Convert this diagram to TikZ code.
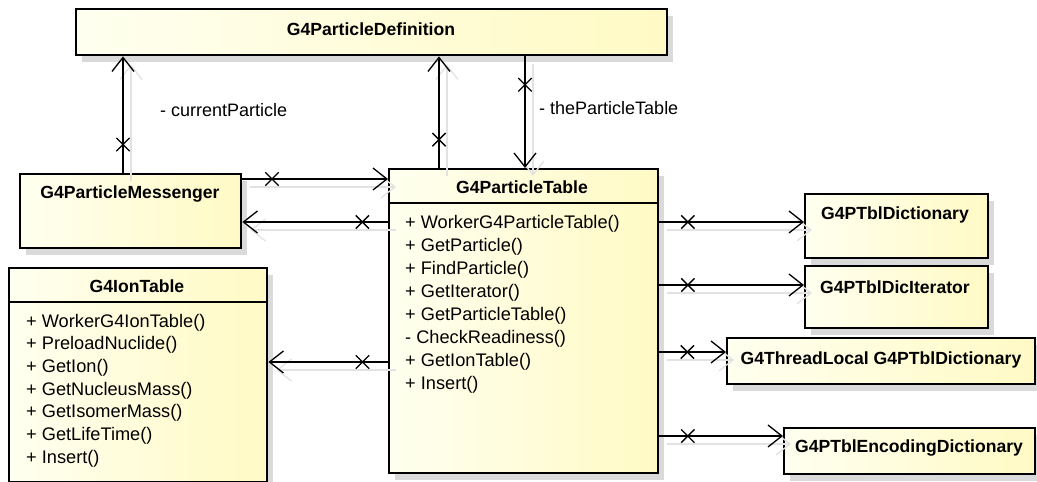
\documentclass[tikz,border=0pt]{standalone}
\usepackage{fontspec}
\setmainfont{Liberation Sans}
\usetikzlibrary{arrows.meta,shapes.misc,shadows,calc}

\definecolor{boxL}{RGB}{255,255,240}
\definecolor{boxR}{RGB}{255,250,196}
\definecolor{shadowc}{RGB}{218,218,218}
\definecolor{ghostc}{RGB}{226,226,226}

\tikzset{
  umlbox/.style={draw=black, line width=2.4pt, rectangle, inner sep=0pt, anchor=north west,
    left color=boxL, right color=boxR,
    drop shadow={shadow xshift=6pt, shadow yshift=-7pt, fill=shadowc, opacity=1}},
  ctitle/.style={font=\bfseries\fontsize{17.6}{20}\selectfont, anchor=base, inner sep=0pt},
  meth/.style={font=\fontsize{18.2}{20}\selectfont, anchor=base west, inner sep=0pt},
  rolelbl/.style={font=\fontsize{18}{20}\selectfont, anchor=base west, inner sep=0pt},
  sepline/.style={line width=1.3pt},
  assoc/.style={line width=1.3pt,
    -{Straight Barb[length=14pt,width=22pt,line width=1.3pt]},
    preaction={draw=ghostc, line width=1.3pt, transform canvas={shift={(8pt,-8pt)}}}},
  xmark/.style={cross out, draw=black, line width=1.3pt, minimum size=12pt, inner sep=0pt}
}

\begin{document}
\begin{tikzpicture}[x=1pt,y=-1pt]
\useasboundingbox (0,0) rectangle (1037,482);

% boxes
\node[umlbox, minimum width=591pt, minimum height=46pt] (pd) at (75,8) {};
\node[ctitle] (pdT) at (371,35.5) {G4ParticleDefinition};

\node[umlbox, minimum width=221pt, minimum height=74pt] (pm) at (19,173) {};
\node[ctitle] (pmT) at (130,198) {G4ParticleMessenger};

\node[umlbox, minimum width=269pt, minimum height=304pt] (pt) at (388,168) {};
\node[ctitle] (ptT) at (522,193.3) {G4ParticleTable};
\draw[sepline] ($(pt.north west)+(0,35)$) coordinate (ptsA) -- ($(pt.north east)+(0,35)$) coordinate (ptsB);
\foreach \m [count=\i] in {+ WorkerG4ParticleTable(), + GetParticle(), + FindParticle(), + GetIterator(), + GetParticleTable(), - CheckReadiness(), + GetIonTable(), + Insert()}
  \node[meth] (ptm\i) at (405,{228.3+23*(\i-1)}) {\m};

\node[umlbox, minimum width=258pt, minimum height=214pt] (ion) at (8,267) {};
\node[ctitle] (ionT) at (137,292.7) {G4IonTable};
\draw[sepline] ($(ion.north west)+(0,35)$) coordinate (ionsA) -- ($(ion.north east)+(0,35)$) coordinate (ionsB);
\foreach \m [count=\i] in {+ WorkerG4IonTable(), + PreloadNuclide(), + GetIon(), + GetNucleusMass(), + GetIsomerMass(), + GetLifeTime(), + Insert()}
  \node[meth] (ionm\i) at (26,{327.3+22.67*(\i-1)}) {\m};

\node[umlbox, minimum width=183pt, minimum height=64pt] (dict) at (804,193) {};
\node[ctitle] (dictT) at (895,219.3) {G4PTblDictionary};

\node[umlbox, minimum width=183pt, minimum height=62pt] (iter) at (804,265) {};
\node[ctitle] (iterT) at (895,293) {G4PTblDicIterator};

\node[umlbox, minimum width=308pt, minimum height=46pt] (tl) at (726,337) {};
\node[ctitle] (tlT) at (881,364) {G4ThreadLocal G4PTblDictionary};

\node[umlbox, minimum width=251pt, minimum height=46pt] (enc) at (783,427) {};
\node[ctitle] (encT) at (909,452.7) {G4PTblEncodingDictionary};

% guide coordinates
\coordinate (cA) at (123,0);
\coordinate (cB) at (439,0);
\coordinate (cC) at (525,0);
\coordinate (rD) at (0,179);
\coordinate (rE) at (0,222);
\coordinate (rF) at (0,362);
\coordinate (rG) at (0,222);
\coordinate (rH) at (0,285);
\coordinate (rI) at (0,352);
\coordinate (rJ) at (0,436);

% connectors
\draw[assoc] (pm.north -| cA) -- node[xmark,pos=0.244]{} (pd.south -| cA);
\draw[assoc] (pt.north -| cB) -- node[xmark,pos=0.254]{} (pd.south -| cB);
\draw[assoc] (pd.south -| cC) -- node[xmark,pos=0.254]{} (pt.north -| cC);
\draw[assoc] (pm.east |- rD) -- node[xmark,pos=0.203]{} (pt.west |- rD);
\draw[assoc] (pt.west |- rE) -- node[xmark,pos=0.176]{} (pm.east |- rE);
\draw[assoc] (pt.west |- rF) -- node[xmark,pos=0.213]{} (ion.east |- rF);
\draw[assoc] (pt.east |- rG) -- node[xmark,pos=0.197]{} (dict.west |- rG);
\draw[assoc] (pt.east |- rH) -- node[xmark,pos=0.197]{} (iter.west |- rH);
\draw[assoc] (pt.east |- rI) -- node[xmark,pos=0.42]{} (tl.west |- rI);
\draw[assoc] (pt.east |- rJ) -- node[xmark,pos=0.23]{} (enc.west |- rJ);

% role labels
\node[rolelbl] (lblCP) at (160,116.5) {- currentParticle};
\node[rolelbl] (lblPT) at (539,114) {- theParticleTable};
\end{tikzpicture}
\end{document}
